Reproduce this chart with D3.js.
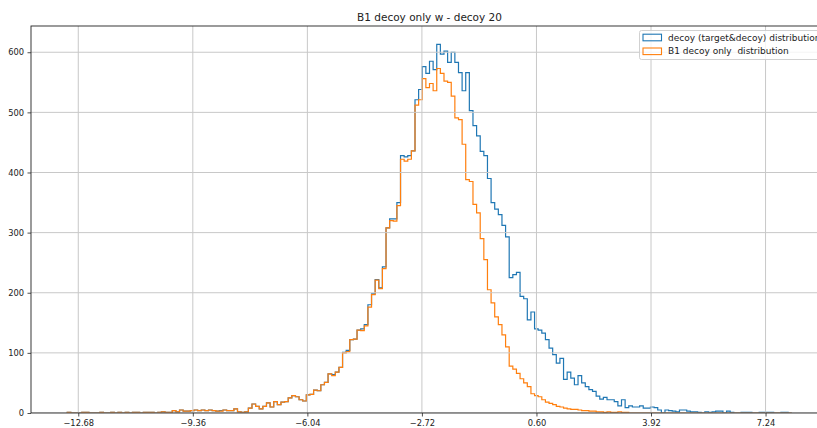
<!DOCTYPE html>
<html>
<head>
<meta charset="utf-8">
<script src="https://cdn.jsdelivr.net/npm/d3@7"></script>
<style>
  body { margin: 0; background: #fff; }
  svg { display: block; }
  text { font-family: "DejaVu Sans", sans-serif; }
</style>
</head>
<body>
<script>
// ---- data ----
const chartTitle = "B1 decoy only w - decoy 20";
const seriesNames = ["decoy (target&decoy) distribution", "B1 decoy only  distribution"];
const seriesColors = ["#1f77b4", "#ff7f0e"];

// histogram bin range shared by both series (200 equal-width bins)
const binRange = [-13.0, 8.0];
const binCount = 200;

// counts per bin: decoy (target&decoy)
const decoyCounts = [
  1,0,0,0,1,1,0,0,0,1, 0,0,1,0,1,0,1,0,1,1,
  0,1,1,1,0,1,2,1,1,4, 2,5,3,3,4,5,4,5,4,5,
  4,3,4,5,4,4,7,2,1,2, 8,15,11,7,11,17,10,19,14,18,
  19,25,29,27,22,20,30,31,38,37, 47,51,65,64,68,76,101,104,122,123,
  138,140,147,180,198,222,208,243,308,323, 323,350,428,426,428,436,521,538,576,565,
  585,571,613,597,602,583,600,583,566,536, 566,503,478,461,435,428,390,350,339,330,
  312,293,225,230,234,194,190,155,168,140, 138,133,122,108,97,83,91,56,68,58,
  47,62,50,44,39,36,28,23,26,22, 22,19,12,22,9,12,10,10,12,8,
  8,10,9,5,0,5,4,3,2,5, 5,3,2,2,1,0,2,1,2,3,
  3,0,3,1,0,0,1,1,1,0, 0,1,1,1,1,0,0,1,1,0
];

// counts per bin: B1 decoy only
const b1DecoyCounts = [
  1,0,0,0,1,1,0,0,0,1, 0,0,1,0,1,0,1,0,1,1,
  0,1,1,1,0,1,2,1,1,4, 2,5,3,3,4,5,4,5,4,5,
  4,3,3,5,4,4,7,2,1,2, 8,15,11,7,11,17,10,19,14,18,
  19,25,29,27,22,20,30,31,38,37, 47,51,65,62,68,76,100,102,122,123,
  138,137,145,176,197,221,207,240,308,320, 319,345,422,419,422,436,512,521,556,541,
  548,536,573,565,552,550,527,491,488,447, 388,385,347,333,290,255,205,183,160,147,
  130,110,78,73,66,57,50,44,32,29, 27,22,18,16,14,11,10,8,7,6,
  6,5,4,4,3,3,2,2,1,2, 1,1,2,1,1,0,0,0,0,0,
  0,0,0,0,0,0,0,0,0,0, 0,0,0,0,0,0,0,0,0,0,
  0,0,0,0,0,0,0,0,0,0, 0,0,0,0,0,0,0,0,0,0
];

const xTickValues = [-12.68, -9.36, -6.04, -2.72, 0.60, 3.92, 7.24];
const yTickValues = [0, 100, 200, 300, 400, 500, 600];

// ---- layout ----
const W = 817, H = 428;
const L = 31, T = 26, R = 828, B = 413;

const svg = d3.select("body").append("svg")
  .attr("width", W).attr("height", H)
  .attr("viewBox", `0 0 ${W} ${H}`);

const span = binRange[1] - binRange[0];
const x = d3.scaleLinear()
  .domain([binRange[0] - 0.05 * span, binRange[1] + 0.05 * span])
  .range([L, R]);
const maxCount = d3.max([...decoyCounts, ...b1DecoyCounts]);
const y = d3.scaleLinear().domain([0, maxCount * 1.05]).range([B, T]);

const edges = d3.range(binCount + 1).map(i => binRange[0] + i * span / binCount);

svg.append("clipPath").attr("id", "plotArea")
  .append("rect").attr("x", L).attr("y", T).attr("width", R - L).attr("height", B - T);

// step outline of a histogram
function stepPoints(counts) {
  const pts = [[x(edges[0]), y(0)]];
  counts.forEach((c, i) => {
    pts.push([x(edges[i]), y(c)]);
    pts.push([x(edges[i + 1]), y(c)]);
  });
  pts.push([x(edges[binCount]), y(0)]);
  return pts;
}

const plot = svg.append("g").attr("clip-path", "url(#plotArea)");
const line = d3.line();
[decoyCounts, b1DecoyCounts].forEach((counts, k) => {
  plot.append("path")
    .attr("d", line(stepPoints(counts)))
    .attr("fill", "none")
    .attr("stroke", seriesColors[k])
    .attr("stroke-width", 1.2)
    .attr("stroke-linejoin", "miter");
});

// grid
const grid = svg.append("g").attr("clip-path", "url(#plotArea)")
  .attr("stroke", "#c8c8c8").attr("stroke-width", 1);
xTickValues.forEach(v => {
  grid.append("line").attr("x1", x(v)).attr("x2", x(v)).attr("y1", T).attr("y2", B);
});
yTickValues.forEach(v => {
  grid.append("line").attr("x1", L).attr("x2", R).attr("y1", y(v)).attr("y2", y(v));
});

// axes
const xAxis = svg.append("g").attr("transform", `translate(0,${B})`)
  .call(d3.axisBottom(x).tickValues(xTickValues).tickFormat(d3.format(".2f"))
    .tickSize(3.5).tickPadding(3.5));
const yAxis = svg.append("g").attr("transform", `translate(${L},0)`)
  .call(d3.axisLeft(y).tickValues(yTickValues).tickFormat(d3.format("d"))
    .tickSize(3.5).tickPadding(3.5));
[xAxis, yAxis].forEach(g => {
  g.select(".domain").remove();
  g.selectAll(".tick line").attr("stroke", "#222").attr("stroke-width", 0.8);
  g.selectAll(".tick text").attr("fill", "#222").style("font-size", "8.3px")
    .style("font-family", '"DejaVu Sans", sans-serif');
});

// spines
svg.append("rect").attr("x", L).attr("y", T).attr("width", R - L).attr("height", B - T)
  .attr("fill", "none").attr("stroke", "#222").attr("stroke-width", 0.9);

// title
svg.append("text").attr("x", (L + R) / 2).attr("y", 21)
  .attr("text-anchor", "middle").style("font-size", "10.5px").attr("fill", "#222")
  .text(chartTitle);

// legend
const legend = svg.append("g");
legend.append("rect").attr("x", 639.5).attr("y", 30.5).attr("width", 184).attr("height", 29)
  .attr("rx", 2).attr("fill", "#fff").attr("fill-opacity", 0.8)
  .attr("stroke", "#cccccc").attr("stroke-width", 0.9);
seriesNames.forEach((name, k) => {
  const cy = 37.5 + k * 13.8;
  legend.append("rect").attr("x", 643).attr("y", cy - 3.3).attr("width", 18.5).attr("height", 6.6)
    .attr("fill", "none").attr("stroke", seriesColors[k]).attr("stroke-width", 1.1);
  legend.append("text").attr("x", 668).attr("y", cy).attr("dy", "0.35em")
    .style("font-size", "9px").style("white-space", "pre").attr("fill", "#222")
    .text(name);
});
</script>
</body>
</html>
